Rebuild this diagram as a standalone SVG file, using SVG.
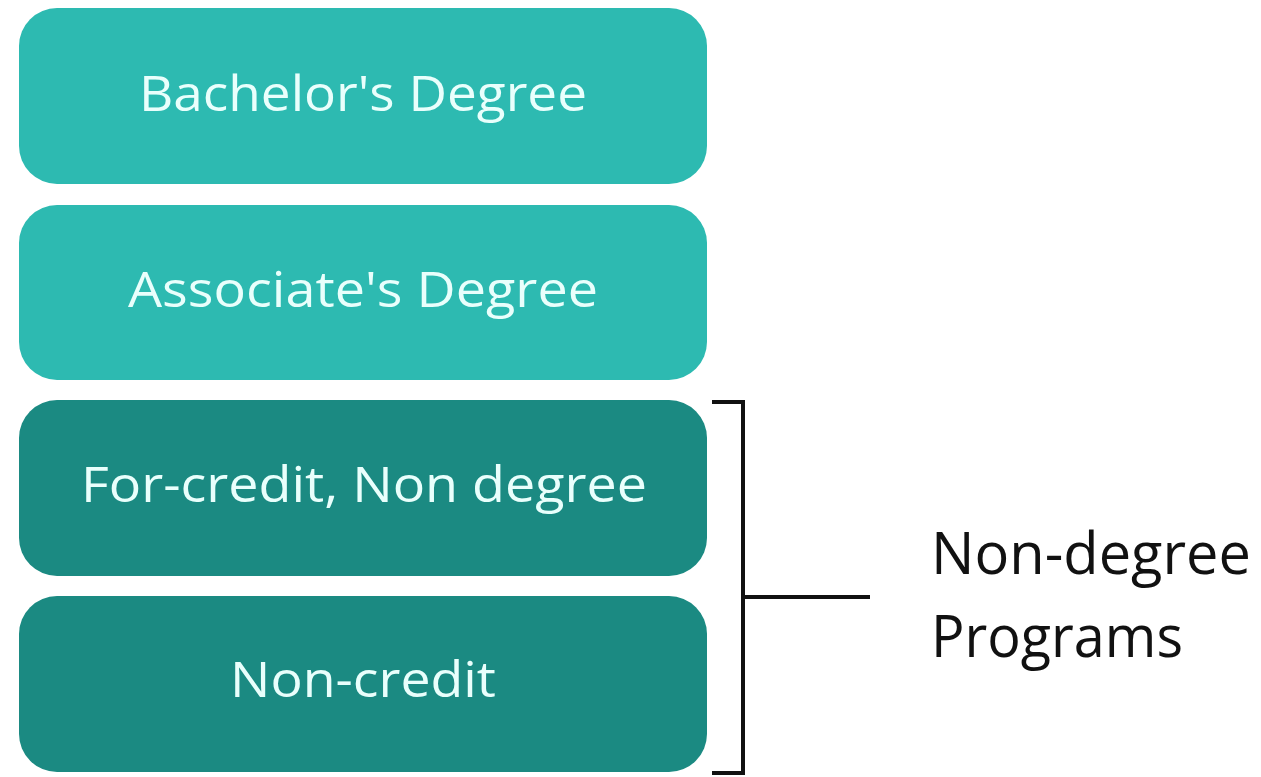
<svg xmlns="http://www.w3.org/2000/svg" width="1261" height="777" viewBox="0 0 1261 777">
  <style>
    .box-light { fill: #2dbab1; }
    .box-dark { fill: #1b8a82; }
    .label { font-family: "Open Sans", "Liberation Sans", sans-serif; font-size: 50px; fill: #e9fffc; text-anchor: middle; }
    .side { font-family: "Open Sans", "Liberation Sans", sans-serif; font-size: 58px; fill: #111111; }
    .bracket { fill: none; stroke: #111111; stroke-width: 4; }
  </style>
  <rect width="1261" height="777" fill="#ffffff"/>

  <g id="bachelors">
    <rect class="box-light" x="19" y="8" width="688" height="176" rx="38"/>
    <text class="label" x="363" y="111" textLength="448" lengthAdjust="spacingAndGlyphs">Bachelor's Degree</text>
  </g>

  <g id="associates">
    <rect class="box-light" x="19" y="205" width="688" height="175" rx="38"/>
    <text class="label" x="363" y="307" textLength="470" lengthAdjust="spacingAndGlyphs">Associate's Degree</text>
  </g>

  <g id="for-credit">
    <rect class="box-dark" x="19" y="400" width="688" height="176" rx="38"/>
    <text class="label" x="364" y="502" textLength="566" lengthAdjust="spacingAndGlyphs">For-credit, Non degree</text>
  </g>

  <g id="non-credit">
    <rect class="box-dark" x="19" y="596" width="688" height="176" rx="38"/>
    <text class="label" x="363" y="697" textLength="266" lengthAdjust="spacingAndGlyphs">Non-credit</text>
  </g>

  <g id="connectors">
    <path class="bracket" d="M712 402 H743 V773 H712"/>
    <path class="bracket" d="M743 597 H870"/>
  </g>

  <g id="non-degree-programs">
    <text class="side" x="931" y="574" textLength="320" lengthAdjust="spacingAndGlyphs">Non-degree</text>
    <text class="side" x="931" y="657" textLength="252" lengthAdjust="spacingAndGlyphs">Programs</text>
  </g>
</svg>
